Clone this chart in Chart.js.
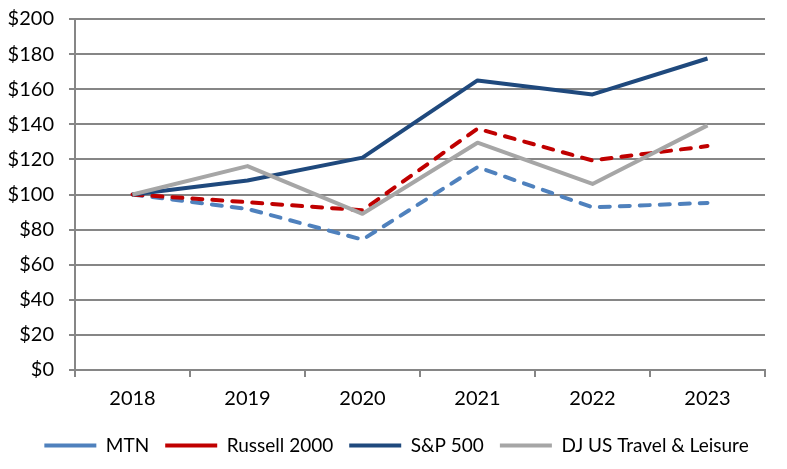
<!DOCTYPE html>
<html>
<head>
<meta charset="utf-8">
<script src="https://cdn.jsdelivr.net/npm/chart.js@4/dist/chart.umd.min.js"></script>
<style>
  html, body { margin: 0; padding: 0; background: #fff; }
  #wrap { width: 787px; height: 469px; }
</style>
</head>
<body>
<div id="wrap"><canvas id="c" width="787" height="469"></canvas></div>
<script>
const categories = ['2018', '2019', '2020', '2021', '2022', '2023'];
const seriesNames = ['MTN', 'Russell 2000', 'S&P 500', 'DJ US Travel & Leisure'];
const mtn = [100, 91.8, 74.3, 115.6, 92.7, 95.2];
const russell2000 = [100, 95.6, 91, 137.5, 119.4, 127.6];
const sp500 = [100, 108, 121, 165, 157, 177.5];
const djTravel = [100, 116.2, 89, 129.5, 106, 139.4];
const yTickValues = [0, 20, 40, 60, 80, 100, 120, 140, 160, 180, 200];

const FONT = "Lato, sans-serif";
const GRID = '#868686';

function ds(label, data, color, dash, order) {
  return {
    label, data,
    borderColor: color, backgroundColor: color,
    borderWidth: 4, borderDash: dash, borderCapStyle: dash.length ? 'round' : 'butt',
    borderJoinStyle: 'round',
    pointRadius: 0, pointHoverRadius: 0, pointStyle: 'line',
    tension: 0, fill: false, order
  };
}

// shift the legend box so it is centred on the canvas like the reference
const legendShift = {
  id: 'legendShift',
  afterLayout(chart) {
    if (chart.legend) { chart.legend.left += 28; }
  }
};

new Chart(document.getElementById('c'), {
  type: 'line',
  data: {
    labels: categories,
    datasets: [
      ds(seriesNames[0], mtn, '#4F81BD', [10, 10], 3),
      ds(seriesNames[1], russell2000, '#C00000', [10, 10], 2),
      ds(seriesNames[2], sp500, '#1F497D', [], 1),
      ds(seriesNames[3], djTravel, '#A6A6A6', [], 0)
    ]
  },
  plugins: [legendShift],
  options: {
    responsive: false,
    animation: false,
    events: [],
    layout: { padding: { top: 19, left: 0, right: 22, bottom: 4 } },
    plugins: {
      tooltip: { enabled: false },
      legend: {
        position: 'bottom',
        labels: {
          usePointStyle: true,
          pointStyleWidth: 52,
          boxHeight: 19,
          padding: 16,
          color: '#000',
          font: { family: FONT, size: 19 },
          sort: (a, b) => a.datasetIndex - b.datasetIndex
        }
      }
    },
    scales: {
      x: {
        offset: true,
        grid: { offset: true, drawOnChartArea: false, drawTicks: true, tickLength: 7, color: GRID, lineWidth: 2 },
        border: { display: true, color: GRID, width: 2 },
        ticks: { color: '#000', font: { family: FONT, size: 20 }, padding: 10, maxRotation: 0 },
        afterFit: (s) => { s.height = 50; }
      },
      y: {
        min: 0, max: 200,
        afterBuildTicks: (s) => { s.ticks = yTickValues.map(v => ({ value: v })); },
        grid: { color: GRID, lineWidth: 2, tickLength: 6, drawTicks: true },
        border: { display: true, color: GRID, width: 2 },
        ticks: { color: '#000', font: { family: FONT, size: 20 }, padding: 15, callback: (v) => '$' + v },
        afterFit: (s) => { s.width = 75; s.paddingTop = 0; s.paddingBottom = 0; }
      }
    }
  }
});
</script>
</body>
</html>
